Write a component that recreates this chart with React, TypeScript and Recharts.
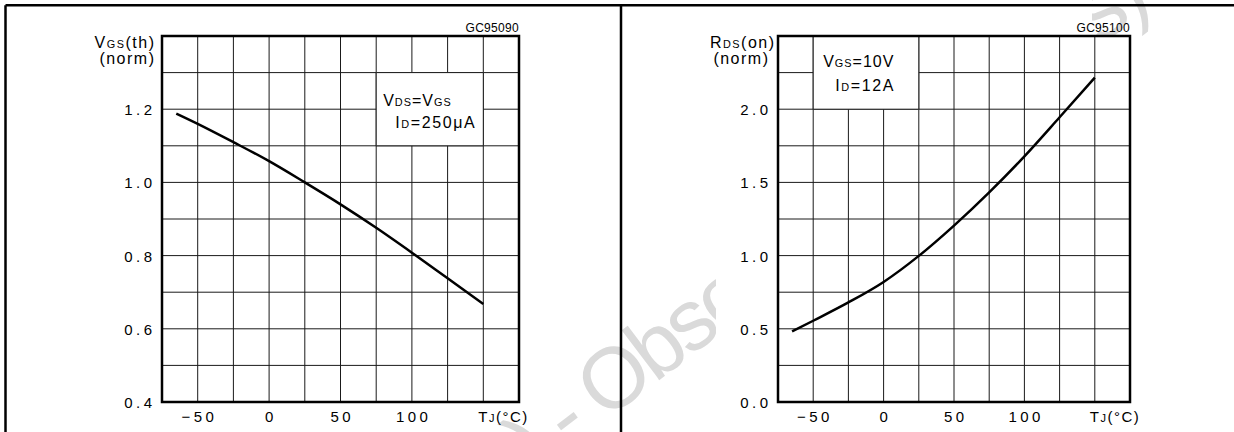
import React from 'react';
import { LineChart, Line, XAxis, YAxis, CartesianGrid, ReferenceArea } from 'recharts';

const FONT = '"Liberation Sans", Arial, Helvetica, sans-serif';
const TICK_LS = 3.5;

// temperature axis shared by both plots, a grid line every 25 °C
const tempTicks = [-75, -50, -25, 0, 25, 50, 75, 100, 125, 150, 175];
const tempLabels: Record<string, string> = { '-50': '−50', '0': '0', '50': '50', '100': '100' };
const unitTickAt = 150;

// left plot: normalized gate threshold voltage vs Tj
const vgsTemps = [-65, -50, -25, 0, 25, 50, 75, 100, 125, 150];
const vgsNorm = [1.188, 1.16, 1.11, 1.058, 1.0, 0.94, 0.876, 0.808, 0.738, 0.668];
const vgsTicks = [0.4, 0.5, 0.6, 0.7, 0.8, 0.9, 1.0, 1.1, 1.2, 1.3, 1.4];
const vgsTickLabels = ['0.4', '0.6', '0.8', '1.0', '1.2'];

// right plot: normalized on-resistance vs Tj
const rdsTemps = [-65, -50, -25, 0, 25, 50, 75, 100, 125, 150];
const rdsNorm = [0.482, 0.555, 0.68, 0.82, 0.998, 1.205, 1.432, 1.678, 1.945, 2.216];
const rdsTicks = [0, 0.25, 0.5, 0.75, 1.0, 1.25, 1.5, 1.75, 2.0, 2.25, 2.5];
const rdsTickLabels = ['0.0', '0.5', '1.0', '1.5', '2.0'];

// text pieces: [text, small]
type Part = [string, boolean];
const vgsTitle: Part[] = [['V', false], ['GS', true], ['(th)', false]];
const rdsTitle: Part[] = [['R', false], ['DS', true], ['(on)', false]];
const vgsNote1: Part[] = [['V', false], ['DS', true], ['=V', false], ['GS', true]];
const vgsNote2: Part[] = [['I', false], ['D', true], ['=250', false], ['μ', false], ['A', false]];
const rdsNote1: Part[] = [['V', false], ['GS', true], ['=10V', false]];
const rdsNote2: Part[] = [['I', false], ['D', true], ['=12A', false]];
const watermark = 'Obsolete Product(s)';

const Rich = ({ parts, size = 16 }: { parts: Part[]; size?: number }) => (
  <>
    {parts.map(([s, small], i) => (
      <tspan key={i} fontSize={small ? size * 0.68 : size}>{s}</tspan>
    ))}
  </>
);

const YTick = (props: any) => {
  const { x, y, payload, labels } = props;
  const s = Number(payload.value).toFixed(1);
  if (!labels.includes(s)) return <g />;
  return (
    <text x={x + TICK_LS} y={y} dy={6} textAnchor="end" fill="#000"
      style={{ fontFamily: FONT, fontSize: 15, letterSpacing: TICK_LS }}>
      {s}
    </text>
  );
};

const XTick = (props: any) => {
  const { x, y, payload } = props;
  const v = payload.value;
  const style = { fontFamily: FONT, fontSize: 15, letterSpacing: 1.5 };
  if (v === unitTickAt) {
    return (
      <text x={x - 5} y={y} dy={20} textAnchor="start" fill="#000" style={style}>
        <tspan>T</tspan>
        <tspan fontSize={11}>J</tspan>
        <tspan>(°C)</tspan>
      </text>
    );
  }
  const s = tempLabels[String(v)];
  if (!s) return <g />;
  return (
    <text x={x + TICK_LS / 2} y={y} dy={20} textAnchor="middle" fill="#000"
      style={{ fontFamily: FONT, fontSize: 15, letterSpacing: TICK_LS }}>
      {s}
    </text>
  );
};

// figure code above the plot and the y-axis title, placed from the plot frame
const FrameText = (props: any) => {
  const { viewBox, code, title, titleGap, normGap } = props;
  if (!viewBox) return null;
  const { x, y, width } = viewBox;
  const ls = 1.5;
  return (
    <g fill="#000" style={{ fontFamily: FONT }}>
      <text x={x + width} y={y - 4} textAnchor="end" style={{ fontSize: 12, letterSpacing: 0.3 }}>{code}</text>
      <text x={x - titleGap + ls} y={y + 12} textAnchor="end" style={{ fontSize: 16, letterSpacing: ls }}>
        <Rich parts={title} />
      </text>
      <text x={x - normGap + ls} y={y + 28} textAnchor="end" style={{ fontSize: 16, letterSpacing: ls }}>
        (norm)
      </text>
    </g>
  );
};

// test conditions inside the white box
const NoteText = (props: any) => {
  const { viewBox, line1, line2, dx1, dx2, dy1, dy2 } = props;
  if (!viewBox) return null;
  const { x, y } = viewBox;
  return (
    <g fill="#000" style={{ fontFamily: FONT }}>
      <text x={x + dx1} y={y + dy1} style={{ fontSize: 16, letterSpacing: 1 }}><Rich parts={line1} /></text>
      <text x={x + dx2} y={y + dy2} style={{ fontSize: 16, letterSpacing: 1.6 }}><Rich parts={line2} /></text>
    </g>
  );
};

const vgsData = vgsTemps.map((t, i) => ({ t, v: vgsNorm[i] }));
const rdsData = rdsTemps.map((t, i) => ({ t, v: rdsNorm[i] }));

type PanelProps = {
  data: { t: number; v: number }[];
  yDomain: [number, number];
  yTicks: number[];
  yLabels: string[];
  note: [number, number, number, number];
  code: string;
  title: Part[];
  line1: Part[];
  line2: Part[];
  width: number;
  margin: { top: number; right: number; bottom: number; left: number };
  titleGap: number;
  normGap: number;
  noteOffsets: { dx1: number; dx2: number; dy1: number; dy2: number };
};

const Panel = (p: PanelProps) => (
  <LineChart width={p.width} height={432} data={p.data} margin={p.margin}>
    <CartesianGrid stroke="#1a1a1a" strokeWidth={1} />
    <XAxis
      dataKey="t"
      type="number"
      domain={[-75, 175]}
      ticks={tempTicks}
      interval={0}
      height={30}
      axisLine={false}
      tickLine={false}
      tickSize={0}
      tickMargin={0}
      tick={(tp: any) => <XTick {...tp} />}
    />
    <YAxis
      type="number"
      domain={p.yDomain}
      ticks={p.yTicks}
      interval={0}
      width={60}
      axisLine={false}
      tickLine={false}
      tickSize={0}
      tickMargin={10}
      tick={(tp: any) => <YTick {...tp} labels={p.yLabels} />}
    />
    <ReferenceArea
      x1={p.note[0]}
      x2={p.note[1]}
      y1={p.note[2]}
      y2={p.note[3]}
      fill="#fff"
      fillOpacity={1}
      stroke="#1a1a1a"
      strokeWidth={1}
      label={<NoteText line1={p.line1} line2={p.line2} {...p.noteOffsets} />}
    />
    <Line
      dataKey="v"
      type="monotone"
      stroke="#000"
      strokeWidth={2.5}
      dot={false}
      activeDot={false}
      isAnimationActive={false}
    />
    <ReferenceArea
      x1={-75}
      x2={175}
      y1={p.yDomain[0]}
      y2={p.yDomain[1]}
      fill="none"
      stroke="#000"
      strokeWidth={2.5}
      label={<FrameText code={p.code} title={p.title} titleGap={p.titleGap} normGap={p.normGap} />}
    />
  </LineChart>
);

// watermark geometry (the datasheet page stamp behind the figure)
const WM_ANGLE = -37.2;
const WM_SIZE = 86;

export default function App() {
  return (
    <div style={{ position: 'absolute', left: 0, top: 0, width: 1234, height: 432, background: '#fff', overflow: 'hidden' }}>
      <svg width={1234} height={432} style={{ position: 'absolute', left: 0, top: 0 }}>
        <g fill="#dadada" style={{ fontFamily: FONT, fontSize: WM_SIZE, letterSpacing: -4.2 }}>
          <text x={589.2} y={433.2} textAnchor="end" transform={`rotate(${WM_ANGLE} 589.2 433.2)`}>
            {watermark} -
          </text>
          <text x={604.9} y={421.3} transform={`rotate(${WM_ANGLE} 604.9 421.3)`}>
            {watermark}
          </text>
        </g>
        {/* the figure image sits over the middle of the stamp */}
        <rect x={716} y={0} width={376} height={432} fill="#fff" />
        <rect x={1092} y={36} width={142} height={396} fill="#fff" />
        <g stroke="#000" strokeWidth={2.5} fill="none">
          <line x1={5.5} y1={5.3} x2={1234} y2={5.3} />
          <line x1={5.5} y1={5.3} x2={5.5} y2={432} />
          <line x1={621} y1={5.3} x2={621} y2={432} />
        </g>
      </svg>
      <div style={{ position: 'absolute', left: 0, top: 0 }}>
        <Panel
          data={vgsData}
          yDomain={[0.4, 1.4]}
          yTicks={vgsTicks}
          yLabels={vgsTickLabels}
          note={[75, 150, 1.1, 1.3]}
          code="GC95090"
          title={vgsTitle}
          line1={vgsNote1}
          line2={vgsNote2}
          width={620}
          margin={{ top: 36, right: 101, bottom: 0, left: 102 }}
          titleGap={8}
          normGap={8}
          noteOffsets={{ dx1: 7, dx2: 19, dy1: 33, dy2: 55 }}
        />
      </div>
      <div style={{ position: 'absolute', left: 620, top: 0 }}>
        <Panel
          data={rdsData}
          yDomain={[0, 2.5]}
          yTicks={rdsTicks}
          yLabels={rdsTickLabels}
          note={[-50, 25, 2.0, 2.5]}
          code="GC95100"
          title={rdsTitle}
          line1={rdsNote1}
          line2={rdsNote2}
          width={614}
          margin={{ top: 36, right: 104, bottom: 0, left: 98 }}
          titleGap={4}
          normGap={10}
          noteOffsets={{ dx1: 10, dx2: 22, dy1: 31, dy2: 55 }}
        />
      </div>
    </div>
  );
}
